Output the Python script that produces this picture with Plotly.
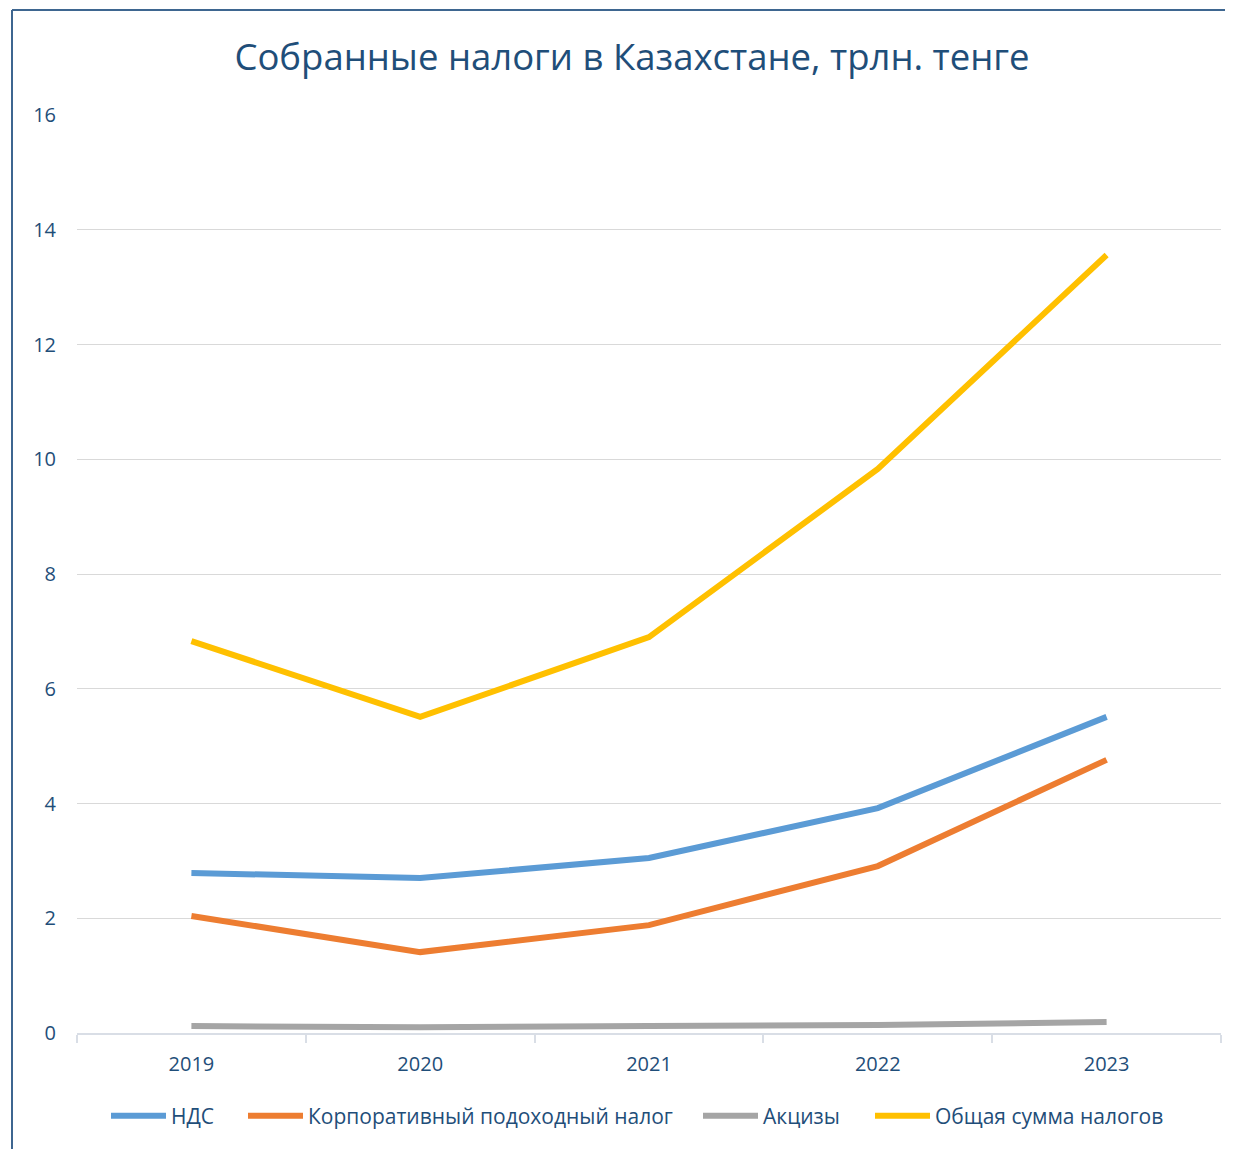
import plotly.graph_objects as go

years = ["2019", "2020", "2021", "2022", "2023"]
vat = [2.79, 2.70, 3.05, 3.92, 5.51]
cit = [2.04, 1.41, 1.88, 2.91, 4.76]
excise = [0.12, 0.10, 0.12, 0.14, 0.19]
total = [6.83, 5.51, 6.90, 9.83, 13.56]

series_names = ["НДС", "Корпоративный подоходный налог", "Акцизы", "Общая сумма налогов"]
series_values = [vat, cit, excise, total]
colors = ["#5B9BD5", "#ED7D31", "#A5A5A5", "#FFC000"]

text_color = "#1F4E79"
font_family = "Open Sans, Noto Sans, sans-serif"

# page has an 8px body margin; figure coordinates are offset by it
OFF = 8
W, H = 1233 - OFF, 1149 - OFF
L, T = 77 - OFF, 115 - OFF
PR, PB = 1221 - OFF, 1033 - OFF
R, B = W - PR, H - PB
pw, ph = W - L - R, H - T - B

def px_x(px):
    return (px - OFF - L) / pw

def px_y(py):
    return (PB - (py - OFF)) / ph

legend_ids = ["legend", "legend2", "legend3", "legend4"]
legend_px = [106, 243, 698, 870]

fig = go.Figure()
for name, vals, col, lid in zip(series_names, series_values, colors, legend_ids):
    fig.add_trace(go.Scatter(
        x=years, y=vals, name=name, mode="lines",
        line=dict(color=col, width=6, shape="linear"),
        legend=lid,
    ))

frame_color = "#3E6690"
shapes = [
    dict(type="line", xref="paper", yref="paper", x0=px_x(12), x1=px_x(1230), y0=px_y(10), y1=px_y(10),
         line=dict(color=frame_color, width=2)),
    dict(type="line", xref="paper", yref="paper", x0=px_x(12), x1=px_x(12), y0=px_y(10), y1=px_y(1149),
         line=dict(color=frame_color, width=2)),
    dict(type="line", xref="paper", yref="paper", x0=px_x(1230), x1=px_x(1230), y0=px_y(8), y1=px_y(10),
         line=dict(color=frame_color, width=2)),
]

legend_common = dict(orientation="h", xanchor="left", y=px_y(1116), yanchor="middle",
                     font=dict(size=21, color=text_color), itemwidth=55,
                     bgcolor="rgba(0,0,0,0)")
legends = {}
for lid, lx in zip(legend_ids, legend_px):
    legends[lid] = dict(legend_common, x=px_x(lx))

fig.update_layout(
    width=W, height=H,
    margin=dict(l=L, r=R, t=T, b=B, autoexpand=False),
    paper_bgcolor="white", plot_bgcolor="white",
    font=dict(family=font_family, color=text_color),
    title=dict(text="Собранные налоги в Казахстане, трлн. тенге",
               x=(632 - OFF) / W, xanchor="center", y=1 - (57 - OFF) / H, yanchor="middle",
               font=dict(size=36.5, color=text_color, family=font_family)),
    xaxis=dict(type="category", range=[-0.5, 4.5], tickson="boundaries",
               ticks="outside", ticklen=8, tickcolor="#D9DEE6", tickwidth=1.5,
               showline=True, linecolor="#D9DEE6", linewidth=1.5,
               showgrid=False, zeroline=False,
               tickfont=dict(size=20, color=text_color), ticklabelstandoff=12),
    yaxis=dict(range=[0, 16], dtick=2, tick0=0, showgrid=True, gridcolor="#D9D9D9",
               gridwidth=1.2, zeroline=False, showline=False, ticks="",
               tickfont=dict(size=20, color=text_color), ticklabelstandoff=20),
    shapes=shapes,
    showlegend=True,
    **legends,
)

fig.write_html("out.html")
